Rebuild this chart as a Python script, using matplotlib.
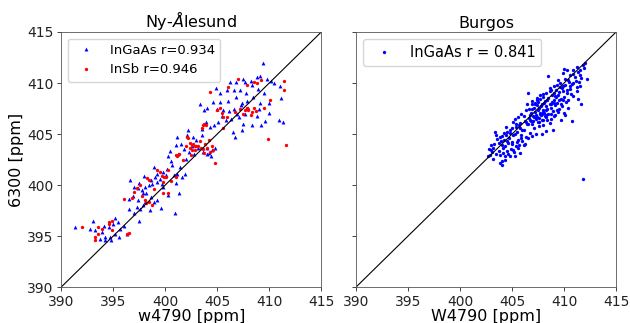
import matplotlib
matplotlib.use('Agg')
import matplotlib.pyplot as plt
import numpy as np

# Ny-Alesund, InGaAs (blue triangles)
ny_ingaas_x = [409.4, 409.1, 408.8, 410.2, 410.5, 411.0, 406.8, 406.2, 407.5, 407.7, 408.2, 408.3,
               407.2, 406.6, 405.9, 405.3, 404.6, 405.0, 405.6, 406.1, 406.6, 407.4, 407.9, 406.9,
               407.1, 407.7, 403.3, 404.0, 403.7, 409.1, 409.0, 410.0, 410.0, 410.9, 411.3, 409.2,
               408.3, 407.4, 406.7, 407.5, 405.8, 405.1, 404.7, 402.2, 402.1, 401.1, 401.0, 400.5,
               400.3, 400.6, 402.7, 403.0, 403.5, 402.6, 404.0, 404.5, 404.2, 398.9, 399.2, 399.5,
               399.7, 399.8, 400.1, 400.8, 401.1, 401.4, 401.6, 401.9, 396.6, 397.0, 397.4, 397.8,
               398.1, 398.4, 398.7, 399.2, 397.9, 398.2, 398.6, 397.4, 397.3, 397.6, 398.1, 399.2,
               398.9, 396.5, 397.5, 401.3, 400.9, 393.1, 394.1, 394.6, 395.0, 395.5, 395.7, 395.2,
               394.7, 394.2, 393.7, 394.2, 393.3, 392.8, 391.3, 395.6, 396.3,
               401.5, 401.8, 402.3, 402.8, 403.2, 403.6, 404.0, 404.4, 404.8, 402.0, 401.2, 400.7,
               400.2, 399.8, 399.0, 398.6, 398.0, 397.5, 396.9, 397.9, 398.5, 399.6, 400.3, 401.0,
               403.5, 403.9, 404.3, 405.5, 406.3, 406.0, 406.8, 407.8, 408.4, 408.9, 409.5, 409.8,
               408.0, 407.3, 405.3, 404.9, 406.5, 408.8, 409.6, 411.1, 394.8, 393.9, 396.0, 397.0,
               395.2, 396.5]
ny_ingaas_y = [412.0, 410.7, 410.6, 410.2, 410.0, 409.7, 410.1, 410.1, 410.4, 410.1, 410.2, 409.8,
               409.3, 409.3, 409.3, 409.0, 408.1, 407.5, 407.4, 407.3, 407.5, 408.0, 408.2, 407.0,
               406.7, 407.0, 407.9, 407.6, 407.4, 408.0, 407.5, 407.1, 408.0, 406.4, 406.2, 405.9,
               405.9, 405.4, 404.7, 406.0, 406.4, 406.2, 405.9, 405.4, 404.9, 404.7, 403.9, 403.3,
               402.8, 402.4, 404.7, 404.4, 404.9, 403.8, 403.6, 403.4, 403.1, 401.8, 401.1, 400.6,
               400.1, 399.8, 401.0, 401.0, 401.1, 401.8, 400.8, 401.1, 400.5, 399.8, 399.7, 399.5,
               399.8, 400.0, 400.1, 400.3, 399.2, 399.2, 398.8, 398.5, 397.9, 397.7, 398.3, 398.5,
               398.3, 397.7, 396.5, 399.2, 397.3, 396.5, 396.0, 395.9, 396.2, 396.4, 395.7, 395.2,
               394.9, 394.9, 394.7, 394.6, 395.6, 395.7, 395.9, 394.9, 395.2,
               404.0, 403.5, 403.2, 403.0, 403.6, 403.2, 403.0, 402.8, 403.6, 402.6, 403.0, 402.0,
               401.6, 401.3, 400.8, 400.5, 400.9, 400.2, 398.9, 398.0, 397.6, 397.8, 399.0, 400.2,
               405.5, 406.2, 405.7, 406.8, 406.5, 408.2, 408.6, 409.0, 408.6, 409.4, 409.0, 410.4,
               407.6, 407.8, 408.1, 409.5, 405.2, 406.8, 406.3, 408.5, 394.6, 395.4, 396.0, 397.3,
               396.8, 398.6]

# Ny-Alesund, InSb (red dots)
ny_insb_x = [404.3, 408.5, 407.9, 408.8, 411.4, 411.4, 410.1, 409.5, 405.0, 405.3, 405.6, 405.9,
             407.2, 407.7, 408.0, 408.3, 408.2, 407.9, 408.5, 403.6, 403.5, 403.7, 403.9, 405.6,
             402.1, 402.2, 402.4, 402.6, 402.7, 402.9, 403.0, 403.2, 403.4, 402.9, 402.6, 402.4,
             404.0, 404.5, 404.6, 403.7, 401.0, 401.1, 401.3, 409.9, 411.6, 404.8, 399.2, 399.5,
             399.7, 399.9, 400.1, 400.3, 401.0, 399.8, 398.3, 398.4, 397.6, 397.3, 397.0, 396.8,
             396.0, 398.1, 398.2, 398.4, 398.7, 399.8, 400.3, 396.5, 396.3, 394.6, 394.9, 394.6,
             393.5, 393.5, 393.3, 393.3, 393.9, 392.0, 394.9,
             403.3, 403.8, 404.2, 402.0, 403.6, 404.3, 401.7, 402.5, 406.7, 407.5, 408.7, 405.5,
             406.0, 407.0, 409.2, 397.8, 398.9, 400.6]
ny_insb_y = [409.1, 410.1, 409.8, 410.0, 410.2, 409.3, 408.3, 407.6, 407.4, 407.6, 406.7, 406.7,
             407.5, 407.4, 407.4, 407.2, 406.9, 407.6, 407.6, 405.9, 405.6, 406.0, 405.9, 405.6,
             404.7, 404.6, 404.1, 403.9, 404.0, 403.8, 403.8, 403.8, 403.6, 403.4, 403.4, 403.6,
             403.6, 403.8, 403.4, 403.1, 402.9, 402.8, 403.0, 404.5, 403.9, 402.2, 401.5, 401.3,
             400.9, 400.8, 400.8, 401.5, 400.8, 400.3, 400.7, 400.5, 400.0, 399.7, 399.3, 398.7,
             398.6, 398.5, 398.2, 398.3, 398.0, 399.2, 399.2, 395.3, 395.2, 396.4, 396.5, 396.2,
             395.9, 395.2, 394.9, 394.6, 395.7, 395.9, 395.6,
             404.3, 404.0, 404.4, 403.8, 403.5, 403.2, 402.5, 402.9, 407.2, 407.0, 407.3, 407.1,
             409.6, 410.4, 410.3, 398.9, 399.6, 400.4]

# Burgos, InGaAs (blue dots)
bu_x = [408.5, 409.9, 410.3, 410.6, 410.9, 411.2, 411.5, 411.9, 412.0, 412.2, 411.5, 411.4,
        410.9, 411.5, 411.2, 410.9, 410.6, 410.3, 409.9, 409.6, 409.3, 409.0, 408.7, 408.3,
        409.1, 409.5, 409.9, 410.4, 409.8, 410.1, 411.6, 410.8, 408.3, 407.7, 407.4, 407.2,
        406.9, 406.6, 406.3, 405.9, 405.6, 405.3, 405.1, 405.4, 405.8, 406.1, 406.4, 406.7,
        407.1, 407.4, 407.7, 408.0, 408.3, 408.7, 409.0, 409.3, 408.7, 408.3, 408.0, 407.5,
        406.9, 406.3, 405.9, 405.6, 405.1, 404.8, 404.5, 404.2, 403.8, 403.5, 403.4, 403.7,
        404.0, 404.3, 404.6, 405.0, 404.2, 403.2, 403.0, 402.7, 402.9, 403.7, 403.8, 404.0,
        404.0, 404.5, 404.8, 405.1, 405.4, 406.1, 405.8, 405.3, 404.3, 411.8,
        407.2, 407.6, 407.9, 408.2, 408.5, 408.1, 407.8, 408.4, 408.8, 409.2, 409.5, 407.0,
        406.8, 407.3, 407.6, 408.0, 408.6, 409.0, 409.4, 409.7, 410.0, 410.3, 410.5, 410.1,
        409.4, 409.0, 408.6, 408.0, 407.5, 406.9, 406.4, 406.1, 405.8, 406.2, 406.6, 407.1,
        406.7, 405.5, 405.0, 404.7, 404.4, 403.9, 404.1, 403.3, 404.9, 405.6, 406.0, 406.9,
        407.3, 409.8, 410.8, 411.0, 410.0, 411.3, 409.7, 408.9, 407.9, 408.3, 407.4, 408.7,
        409.1, 407.7, 406.5, 410.4,
        406.5, 406.7, 406.9, 407.0, 407.2, 407.3, 407.5, 407.6, 407.7, 407.8, 407.9, 408.0,
        408.1, 408.2, 408.3, 408.4, 408.5, 408.6, 408.7, 408.8, 408.9, 409.0, 409.1, 409.2,
        409.3, 409.4, 409.6, 409.7, 409.9, 410.1, 410.2, 410.4, 410.6, 410.7, 410.9, 411.1,
        411.3, 411.6, 411.8, 411.2,
        403.0, 403.2, 403.5, 403.6, 403.8, 404.0, 404.1, 404.3, 404.5, 404.6, 404.8, 405.0,
        405.2, 405.3, 405.5, 405.7, 405.9, 406.0, 406.2, 406.3, 405.4, 404.4, 405.7, 406.5,
        403.1, 402.8,
        407.4, 408.0, 408.6, 407.1, 406.8, 407.9, 408.4, 409.5, 410.0, 407.6]
bu_y = [410.7, 411.0, 411.3, 410.8, 411.3, 411.6, 411.3, 411.5, 412.0, 410.4, 410.8, 410.1,
        410.0, 409.7, 409.2, 408.7, 409.7, 409.3, 409.7, 410.0, 409.8, 409.7, 409.3, 409.0,
        408.7, 408.3, 408.3, 408.3, 407.7, 406.9, 407.9, 406.3, 405.3, 408.8, 408.5, 408.0,
        407.9, 407.5, 407.4, 407.0, 406.7, 406.5, 406.2, 405.7, 405.6, 405.4, 406.0, 406.4,
        406.7, 406.7, 407.0, 407.4, 407.7, 407.9, 408.0, 407.4, 407.0, 406.7, 406.4, 406.2,
        406.0, 404.7, 404.6, 404.4, 404.9, 405.1, 405.2, 405.1, 404.7, 404.9, 405.2, 404.1,
        403.9, 403.8, 404.1, 404.2, 404.4, 403.6, 403.4, 402.8, 402.9, 403.3, 402.9, 402.4,
        402.0, 403.3, 402.8, 403.4, 403.8, 403.9, 403.1, 402.8, 402.8, 400.6,
        407.2, 407.6, 407.9, 408.2, 408.5, 407.1, 406.9, 407.5, 408.1, 408.6, 409.1, 406.8,
        407.1, 406.5, 406.2, 405.9, 406.1, 406.8, 407.2, 407.9, 408.6, 409.0, 410.1, 410.4,
        410.3, 409.0, 409.5, 408.6, 408.1, 408.2, 407.9, 406.8, 406.1, 406.3, 406.6, 405.6,
        405.1, 405.2, 405.6, 404.6, 405.7, 404.3, 403.1, 404.0, 403.5, 403.6, 404.3, 404.8,
        405.0, 409.5, 409.9, 410.6, 411.4, 408.4, 406.4, 405.4, 405.0, 406.9, 407.8, 407.6,
        407.8, 408.4, 409.0, 407.6,
        406.0, 406.9, 407.5, 406.3, 407.9, 406.9, 407.4, 406.6, 407.1, 407.7, 406.4, 407.2,
        408.0, 406.8, 407.4, 408.3, 407.0, 407.9, 406.5, 408.8, 407.3, 408.3, 406.9, 409.3,
        408.0, 408.8, 409.6, 408.4, 409.2, 409.8, 408.1, 410.3, 409.4, 408.9, 410.9, 410.2,
        411.1, 410.5, 411.8, 409.6,
        403.9, 402.6, 403.0, 404.5, 402.2, 404.8, 403.6, 402.5, 404.3, 403.0, 405.4, 404.0,
        403.2, 405.0, 404.2, 405.9, 404.9, 405.4, 404.0, 406.2, 406.0, 404.9, 403.9, 404.6,
        403.2, 403.5,
        408.3, 408.9, 409.2, 407.6, 406.3, 407.0, 406.4, 407.5, 407.1, 405.8]

lims = [390, 415]
ticks = [390, 395, 400, 405, 410, 415]

fig = plt.figure(figsize=(6.3, 3.23), dpi=100)
ax1 = fig.add_axes([0.097, 0.111, 0.413, 0.79])
ax2 = fig.add_axes([0.565, 0.111, 0.413, 0.79])

ax1.plot(ny_ingaas_x, ny_ingaas_y, '^', color='blue', ms=2.8, mew=0,
         label='InGaAs r=0.934')
ax1.plot(ny_insb_x, ny_insb_y, 'o', color='red', ms=2.4, mew=0,
         label='InSb r=0.946')
ax2.plot(bu_x, bu_y, 'o', color='blue', ms=2.4, mew=0, label='InGaAs r = 0.841')

for ax in (ax1, ax2):
    ax.plot(lims, lims, color='black', lw=0.8)
    ax.set_xlim(lims)
    ax.set_ylim(lims)
    ax.set_xticks(ticks)
    ax.set_yticks(ticks)
    ax.tick_params(labelsize=10, length=3, width=0.6, pad=2.5, colors='#222222')
    for s in ax.spines.values():
        s.set_linewidth(0.6)
        s.set_color('#555555')

ax1.legend(loc='upper left', fontsize=9.5)
ax2.legend(loc='upper left', fontsize=10.5)

ax2.set_yticklabels([])
ax1.set_title('Ny-$\\AA$lesund', fontsize=11.5, pad=3)
ax2.set_title('Burgos', fontsize=11.5, pad=3)
ax1.set_xlabel('w4790 [ppm]', fontsize=11.5, labelpad=0)
ax2.set_xlabel('W4790 [ppm]', fontsize=11.5, labelpad=0)
ax1.set_ylabel('6300 [ppm]', fontsize=11.5, labelpad=2)

fig.savefig('out.png', dpi=100)
